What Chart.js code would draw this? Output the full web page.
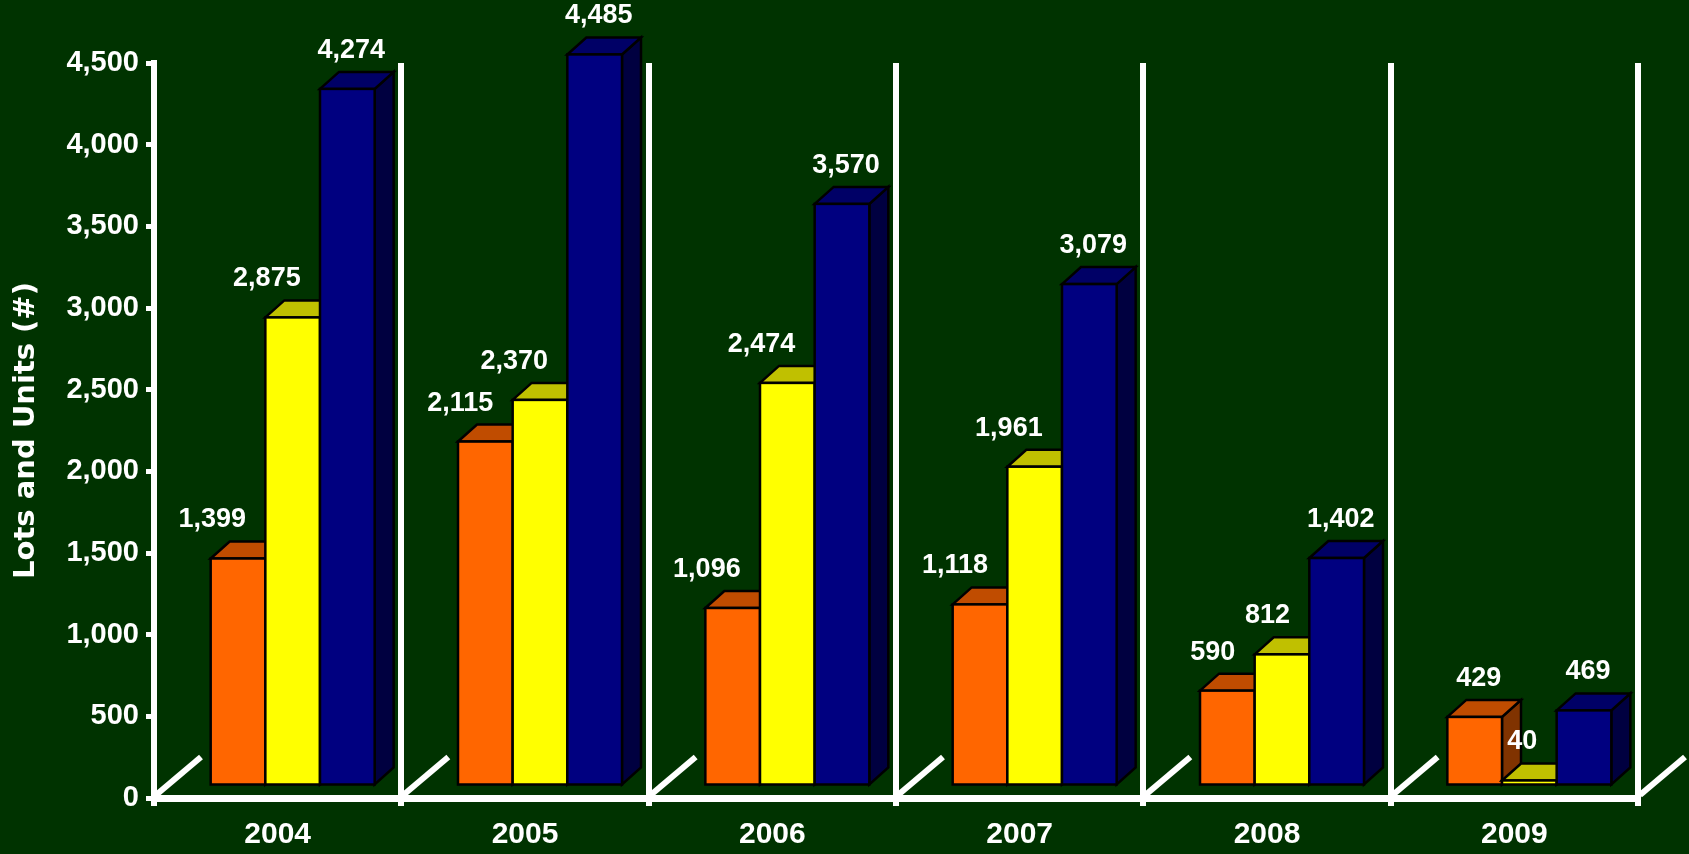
<!DOCTYPE html>
<html>
<head>
<meta charset="utf-8">
<title>Lots and Units</title>
<script src="https://cdn.jsdelivr.net/npm/chart.js@4.4.0/dist/chart.umd.min.js"></script>
<style>
    html, body { margin: 0; padding: 0; background: #003300; }
    #wrap { width: 1689px; height: 854px; }
</style>
</head>
<body>
<div id="wrap"><canvas id="chart" width="1689" height="854"></canvas></div>
<script>
const years = ['2004', '2005', '2006', '2007', '2008', '2009'];
const seriesOrange = [1399, 2115, 1096, 1118, 590, 429];
const seriesYellow = [2875, 2370, 2474, 1961, 812, 40];
const seriesBlue = [4274, 4485, 3570, 3079, 1402, 469];

// front / top / side colours for the fake 3D boxes
const faces = [
    { front: '#ff6600', top: '#c04c00', side: '#803300' },
    { front: '#ffff00', top: '#c0c000', side: '#808000' },
    { front: '#000080', top: '#000066', side: '#000040' },
];

const FRONT_DX = 15;   // front face shift off the axis plane
const FRONT_DY = -11;
const DEPTH_X = 19;    // depth of each box
const DEPTH_Y = 17;

const fmt = (v) => v.toLocaleString('en-US');

const drawBox = (ctx, l, r, t, b, c) => {
    ctx.lineWidth = 2.5;
    ctx.strokeStyle = '#000';
    ctx.lineJoin = 'miter';

    // side
    ctx.beginPath();
    ctx.moveTo(r, t);
    ctx.lineTo(r + DEPTH_X, t - DEPTH_Y);
    ctx.lineTo(r + DEPTH_X, b - DEPTH_Y);
    ctx.lineTo(r, b);
    ctx.closePath();
    ctx.fillStyle = c.side;
    ctx.fill();
    ctx.stroke();

    // top
    ctx.beginPath();
    ctx.moveTo(l, t);
    ctx.lineTo(l + DEPTH_X, t - DEPTH_Y);
    ctx.lineTo(r + DEPTH_X, t - DEPTH_Y);
    ctx.lineTo(r, t);
    ctx.closePath();
    ctx.fillStyle = c.top;
    ctx.fill();
    ctx.stroke();

    // front
    ctx.fillStyle = c.front;
    ctx.fillRect(l, t, r - l, b - t);
    ctx.strokeRect(l, t, r - l, b - t);
};

const floorLines = {
    id: 'floorLines',
    beforeDatasetsDraw(chart) {
        const ctx = chart.ctx;
        const xs = chart.scales.x;
        const bottom = chart.chartArea.bottom;
        ctx.save();
        ctx.strokeStyle = '#fff';
        ctx.lineWidth = 6;
        for (let i = 0; i <= years.length; i++) {
            const bx = xs.getPixelForValue(i - 0.5);
            ctx.beginPath();
            ctx.moveTo(bx + 2, bottom - 3);
            ctx.lineTo(bx + 47, bottom - 41);
            ctx.stroke();
        }
        ctx.restore();
    }
};

const boxes3d = {
    id: 'boxes3d',
    afterDatasetsDraw(chart) {
        const ctx = chart.ctx;
        const metas = chart.data.datasets.map((d, i) => chart.getDatasetMeta(i));
        ctx.save();

        // boxes, left to right so nearer faces paint over
        years.forEach((year, j) => {
            metas.forEach((meta, i) => {
                const bar = meta.data[j];
                const l = bar.x - bar.width / 2 + FRONT_DX;
                const r = bar.x + bar.width / 2 + FRONT_DX;
                drawBox(ctx, l, r, bar.y + FRONT_DY, bar.base + FRONT_DY, faces[i]);
            });
        });

        // value labels
        ctx.fillStyle = '#fff';
        ctx.font = 'bold 27px "Liberation Sans", Arial, sans-serif';
        ctx.textBaseline = 'bottom';
        years.forEach((year, j) => {
            metas.forEach((meta, i) => {
                const data = chart.data.datasets[i].data;
                const bar = meta.data[j];
                const cx = bar.x + FRONT_DX;
                const txt = fmt(data[j]);
                const nextTaller = i < metas.length - 1 && chart.data.datasets[i + 1].data[j] > data[j] + 100;
                if (nextTaller) {
                    ctx.textAlign = 'right';
                    ctx.fillText(txt, cx + 8, bar.y + FRONT_DY - 25);
                } else {
                    ctx.textAlign = 'center';
                    ctx.fillText(txt, cx + 4, bar.y + FRONT_DY - 25);
                }
            });
        });
        ctx.restore();
    }
};

const ctx = document.getElementById('chart').getContext('2d');

new Chart(ctx, {
    type: 'bar',
    data: {
        labels: years,
        datasets: [
            { label: 'Series 1', data: seriesOrange },
            { label: 'Series 2', data: seriesYellow },
            { label: 'Series 3', data: seriesBlue },
        ].map(ds => ({
            ...ds,
            backgroundColor: 'rgba(0,0,0,0)',
            borderWidth: 0,
            categoryPercentage: 0.663,
            barPercentage: 1.0,
        })),
    },
    options: {
        responsive: false,
        animation: false,
        devicePixelRatio: 1,
        locale: 'en-US',
        layout: {
            padding: { top: 63, right: 51, left: 0, bottom: 0 }
        },
        plugins: {
            legend: { display: false },
            tooltip: { enabled: false },
        },
        scales: {
            x: {
                offset: true,
                grid: {
                    offset: true,
                    color: '#fff',
                    lineWidth: 6,
                    drawTicks: true,
                    tickLength: 8,
                },
                border: { display: true, color: '#fff', width: 7 },
                ticks: {
                    color: '#fff',
                    padding: 11,
                    font: { family: '"Liberation Sans", Arial, sans-serif', size: 30, weight: 'bold' },
                },
                afterFit: (scale) => { scale.height = 56; },
            },
            y: {
                min: 0,
                max: 4500,
                ticks: {
                    stepSize: 500,
                    color: '#fff',
                    padding: 7,
                    font: { family: '"Liberation Sans", Arial, sans-serif', size: 29, weight: 'bold' },
                },
                grid: {
                    drawOnChartArea: false,
                    drawTicks: true,
                    tickLength: 8,
                    color: '#fff',
                    lineWidth: 5,
                },
                border: { display: true, color: '#fff', width: 6 },
                title: {
                    display: true,
                    text: 'Lots and Units (#)',
                    color: '#fff',
                    padding: { top: 9, bottom: 0 },
                    font: { family: '"DejaVu Sans", sans-serif', size: 29, weight: 'bold' },
                },
                afterFit: (scale) => { scale.width = 154; },
            }
        }
    },
    plugins: [floorLines, boxes3d],
});
</script>
</body>
</html>
